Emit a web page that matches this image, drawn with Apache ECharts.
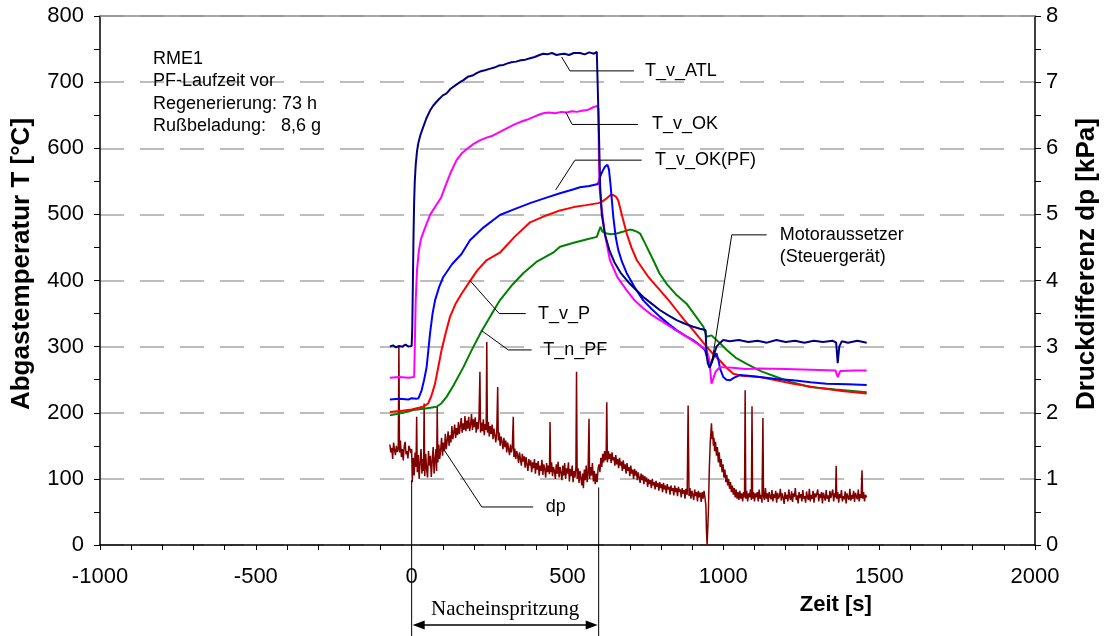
<!DOCTYPE html>
<html><head><meta charset="utf-8">
<script src="https://cdn.jsdelivr.net/npm/echarts@6/dist/echarts.min.js"></script>
<style>html,body{margin:0;padding:0;background:#fff}#c{width:1105px;height:636px}</style>
</head><body><div id="c"></div><script>
// ---- tick definitions ----
var xTicks = {min: -1000, max: 2000, interval: 500};
var yLeftTicks = {min: 0, max: 800, interval: 100};
var yRightTicks = {min: 0, max: 8, interval: 1};

// ---- series data [time s, value] ----
var tvATL = [[-70,300],[-60,302],[-50,299],[-40,301],[-30,300],[-20,303],[-10,300],[0,301],[2,330],[4,400],[6,470],[8,520],[10,550],[13,575],[17,595],[21,607],[28,620],[37,632],[47,645],[59,657],[70,665],[85,673],[100,680],[112,683],[125,690],[140,695],[155,700],[166,703],[180,708],[195,710],[210,714],[219,716],[235,718],[250,720],[265,722],[280,725],[295,726],[305,728],[320,730],[335,731],[350,733],[365,734],[380,736],[395,738],[410,741],[422,743],[435,742],[450,744],[465,741],[476,742],[490,743],[505,741],[520,744],[540,744],[555,742],[570,745],[585,743],[594,746],[598,744],[600,640],[602,600],[605,540],[610,500],[620,470],[635,445],[650,428],[670,412],[700,395],[743,375],[770,365],[797,355],[825,347],[850,340],[875,335],[903,330],[925,327],[943,325],[946,290],[950,275],[956,268],[962,269],[970,288],[978,300],[990,306],[1000,310],[1020,308],[1050,310],[1080,307],[1110,309],[1140,306],[1170,310],[1200,307],[1230,309],[1260,306],[1290,309],[1320,307],[1350,309],[1362,306],[1367,275],[1372,300],[1380,308],[1400,306],[1430,309],[1460,306]];
var tvOK = [[-70,253],[-40,254],[-10,253],[8,254],[10,300],[13,370],[17,415],[23,445],[30,463],[43,480],[60,500],[80,515],[94,525],[110,545],[125,563],[144,582],[160,592],[180,600],[200,607],[219,612],[240,616],[260,619],[280,624],[305,630],[330,636],[350,640],[369,643],[390,647],[410,651],[422,653],[440,654],[460,653],[480,655],[497,654],[515,656],[530,655],[550,657],[565,658],[583,662],[595,664],[599,660],[601,580],[603,540],[609,511],[620,470],[636,431],[660,405],[690,385],[715,370],[743,358],[770,348],[797,340],[840,327],[882,315],[915,305],[946,295],[955,280],[962,244],[968,252],[975,262],[989,269],[1030,268],[1070,266],[1117,267],[1200,266],[1280,265],[1360,264],[1367,254],[1375,263],[1420,264],[1460,264]];
var tvOKPF = [[-70,220],[-40,221],[-10,220],[0,222],[5,225],[15,221],[22,222],[32,234],[40,250],[48,269],[59,320],[67,350],[75,370],[88,390],[101,405],[130,425],[160,440],[187,461],[230,480],[283,499],[330,508],[380,517],[430,525],[476,532],[520,538],[540,541],[570,543],[598,546],[603,555],[612,565],[620,572],[628,575],[633,568],[638,545],[647,496],[655,465],[663,446],[675,428],[690,411],[715,390],[743,370],[770,357],[797,345],[825,334],[850,325],[880,316],[903,310],[925,302],[941,295],[950,280],[957,269],[962,272],[970,285],[978,290],[985,278],[990,266],[1000,254],[1010,250],[1021,249],[1035,253],[1053,257],[1080,256],[1117,254],[1170,251],[1224,249],[1280,246],[1331,244],[1400,243],[1460,242]];
var tvP = [[-70,201],[-30,203],[0,205],[37,209],[53,214],[63,225],[75,244],[85,268],[96,295],[110,322],[123,345],[140,364],[160,380],[187,399],[210,415],[241,431],[283,442],[330,466],[380,488],[430,498],[476,506],[520,511],[560,514],[599,517],[610,519],[625,524],[640,530],[647,529],[655,527],[663,521],[675,498],[690,471],[705,450],[722,431],[760,405],[797,385],[825,370],[850,355],[875,340],[903,325],[925,312],[946,300],[965,290],[989,279],[1010,268],[1032,259],[1060,256],[1117,254],[1170,249],[1224,244],[1300,238],[1380,233],[1460,229]];
var tnPF = [[-70,196],[-40,199],[-10,202],[5,204],[40,206],[80,209],[95,214],[112,224],[135,242],[166,269],[195,297],[225,324],[255,348],[283,370],[320,392],[358,411],[400,428],[454,442],[476,451],[520,457],[560,462],[594,466],[600,474],[606,481],[612,474],[626,471],[640,470],[658,471],[680,474],[700,477],[711,476],[722,474],[733,471],[750,455],[775,431],[795,411],[818,395],[850,378],[882,365],[910,347],[936,330],[946,315],[952,318],[962,317],[985,307],[1011,295],[1040,283],[1075,274],[1120,263],[1171,254],[1220,246],[1278,239],[1360,235],[1460,231]];
var dp = [[-70,1.52],[-67,1.40],[-64,1.47],[-61,1.30],[-58,1.55],[-55,1.44],[-52,1.36],[-49,1.50],[-46,1.41],[-43,1.47],[-41,3.02],[-39,1.40],[-36,1.58],[-33,1.33],[-30,1.45],[-27,1.28],[-24,1.49],[-21,1.56],[-18,1.37],[-15,1.42],[-12,1.31],[-9,1.50],[-6,1.46],[-3,1.39],[0,1.45],[2,0.95],[5,1.32],[8,1.05],[11,1.40],[14,1.18],[16,1.94],[18,1.10],[21,1.36],[24,1.00],[27,1.25],[30,1.45],[33,1.08],[36,1.30],[38,1.12],[40,2.14],[42,1.04],[45,1.38],[48,1.15],[51,1.02],[54,1.42],[57,1.20],[60,1.35],[63,1.03],[66,1.28],[69,1.48],[72,1.08],[75,1.30],[78,1.45],[80,1.12],[82,2.09],[84,1.25],[87,1.52],[90,1.30],[93,1.44],[96,1.62],[99,1.35],[102,1.55],[105,1.42],[108,1.68],[111,1.45],[114,1.58],[117,1.72],[120,1.50],[123,1.66],[126,1.55],[129,1.80],[132,1.60],[135,1.70],[138,1.82],[141,1.62],[144,1.77],[147,1.66],[150,1.86],[153,1.68],[156,1.80],[159,1.92],[162,1.70],[165,1.84],[168,1.74],[171,1.95],[174,1.72],[177,1.88],[180,1.76],[183,1.94],[186,1.72],[189,1.82],[192,1.98],[195,1.74],[198,1.90],[201,1.78],[204,1.93],[207,1.70],[210,1.86],[213,1.75],[216,1.92],[219,2.62],[221,1.70],[224,1.85],[227,1.72],[230,1.90],[233,1.66],[236,1.83],[239,1.74],[241,3.07],[243,1.70],[246,1.86],[249,1.64],[252,1.80],[255,1.68],[258,1.82],[261,1.60],[264,1.76],[267,1.66],[270,1.55],[273,1.72],[276,2.39],[278,1.58],[281,1.70],[284,1.50],[287,1.64],[290,1.56],[293,1.45],[296,1.62],[299,1.48],[302,1.58],[305,1.40],[308,1.55],[311,1.45],[314,1.36],[317,1.52],[320,1.40],[323,1.48],[326,1.94],[328,1.33],[331,1.46],[334,1.30],[337,1.42],[340,1.35],[343,1.24],[346,1.40],[349,1.30],[352,1.20],[355,1.38],[358,1.26],[361,1.34],[364,1.17],[367,1.33],[370,1.22],[373,1.12],[376,1.30],[379,1.20],[382,1.28],[385,1.10],[388,1.25],[391,1.16],[394,1.30],[397,1.08],[400,1.24],[403,1.14],[406,1.27],[409,1.05],[412,1.20],[415,1.12],[418,1.29],[421,1.06],[424,1.22],[427,1.15],[430,1.02],[433,1.24],[436,1.10],[439,1.20],[442,1.07],[444,1.86],[446,1.10],[449,1.25],[452,1.04],[455,1.18],[458,1.12],[461,1.00],[464,1.22],[467,1.08],[470,1.26],[473,1.02],[476,1.18],[479,1.10],[482,0.98],[485,1.20],[488,1.05],[491,1.24],[494,1.00],[497,1.16],[500,1.08],[503,1.25],[506,0.96],[509,1.15],[512,1.04],[515,1.20],[518,0.95],[521,1.12],[524,1.02],[527,1.18],[529,2.62],[531,1.00],[534,1.16],[537,0.94],[540,1.12],[543,1.02],[546,0.90],[549,1.08],[551,0.86],[554,1.14],[557,0.98],[560,1.20],[563,0.95],[566,1.10],[569,1.91],[571,1.00],[574,1.18],[577,1.05],[580,1.24],[583,0.96],[586,1.12],[589,0.92],[592,1.08],[595,0.95],[598,1.15],[601,1.22],[604,1.10],[607,1.32],[610,1.18],[613,1.38],[616,1.25],[619,1.42],[622,1.28],[624,1.35],[626,2.16],[628,1.25],[631,1.42],[634,1.30],[637,1.38],[640,1.24],[643,1.40],[646,1.28],[649,1.33],[652,1.20],[655,1.36],[658,1.22],[661,1.30],[664,1.16],[667,1.32],[670,1.20],[673,1.26],[676,1.12],[679,1.28],[682,1.15],[685,1.22],[688,1.08],[691,1.24],[694,1.12],[697,1.18],[700,1.04],[703,1.20],[706,1.08],[709,1.14],[712,1.00],[715,1.15],[718,1.05],[721,1.12],[724,0.98],[727,1.10],[730,1.02],[733,0.94],[736,1.08],[739,0.98],[742,1.06],[745,0.92],[748,1.04],[751,0.96],[754,1.02],[757,0.88],[760,1.00],[763,0.92],[766,0.98],[769,0.86],[772,1.00],[775,0.90],[778,0.95],[781,0.84],[784,0.97],[787,0.88],[790,0.94],[793,0.82],[796,0.95],[799,0.86],[802,0.92],[805,0.80],[808,0.94],[811,0.84],[814,0.90],[817,0.78],[820,0.92],[823,0.84],[826,0.88],[829,0.76],[832,0.90],[835,0.82],[838,0.86],[841,0.75],[844,0.90],[847,0.80],[850,0.86],[853,0.74],[856,0.88],[859,0.80],[862,0.84],[865,0.72],[868,0.86],[871,0.78],[874,0.83],[877,0.70],[880,0.85],[884,0.76],[887,2.11],[890,0.74],[893,0.86],[896,0.70],[899,0.82],[902,0.76],[905,0.68],[908,0.84],[911,0.74],[914,0.80],[917,0.66],[920,0.82],[923,0.72],[926,0.79],[929,0.65],[932,0.80],[935,0.70],[938,0.82],[941,0.72],[944,0.60],[946,0.20],[948,0.00],[950,0.00],[952,0.50],[955,1.15],[958,1.55],[960,1.70],[962,1.84],[964,1.60],[966,1.72],[968,1.50],[970,1.62],[972,1.42],[975,1.56],[978,1.35],[981,1.48],[984,1.25],[987,1.40],[990,1.18],[993,1.30],[996,1.10],[999,1.22],[1002,1.02],[1005,1.14],[1008,0.95],[1011,1.06],[1014,0.90],[1017,1.00],[1020,0.85],[1023,0.95],[1026,0.80],[1029,0.90],[1032,0.76],[1035,0.86],[1038,0.72],[1041,0.84],[1044,0.70],[1047,0.80],[1050,0.68],[1053,0.82],[1056,0.70],[1059,0.78],[1062,0.66],[1065,0.80],[1068,0.72],[1070,2.34],[1072,0.70],[1075,0.82],[1078,0.66],[1081,0.78],[1084,0.72],[1087,0.84],[1090,0.68],[1092,2.10],[1094,0.70],[1097,0.80],[1100,0.66],[1103,0.78],[1106,0.72],[1109,0.80],[1112,0.66],[1115,0.84],[1118,0.70],[1121,0.76],[1124,0.64],[1127,1.92],[1129,0.74],[1132,0.68],[1135,0.86],[1138,0.70],[1141,0.78],[1144,0.65],[1147,0.80],[1150,0.73],[1153,0.69],[1156,0.83],[1159,0.66],[1162,0.77],[1165,0.71],[1168,0.82],[1171,0.64],[1174,0.79],[1177,0.70],[1180,0.74],[1183,0.85],[1186,0.67],[1189,0.78],[1192,0.72],[1195,0.62],[1198,0.80],[1201,0.70],[1204,0.76],[1207,0.66],[1210,0.84],[1213,0.72],[1216,0.68],[1219,0.81],[1222,0.65],[1225,0.78],[1228,0.73],[1231,0.86],[1234,0.68],[1237,0.75],[1240,0.63],[1243,0.80],[1246,0.71],[1249,0.77],[1252,0.66],[1255,0.83],[1258,0.70],[1261,0.74],[1264,0.64],[1267,0.81],[1270,0.72],[1273,0.68],[1276,0.85],[1279,0.66],[1282,0.76],[1285,0.70],[1288,0.82],[1291,0.64],[1294,0.78],[1297,0.72],[1300,0.69],[1303,0.84],[1306,0.66],[1309,0.77],[1312,0.71],[1315,0.80],[1318,0.63],[1321,0.79],[1324,0.73],[1327,0.67],[1330,0.83],[1333,0.70],[1336,0.75],[1339,0.65],[1342,0.82],[1345,0.71],[1348,0.68],[1351,0.84],[1354,0.66],[1357,0.78],[1360,0.72],[1362,1.20],[1364,0.70],[1367,0.80],[1370,0.64],[1373,0.77],[1376,0.71],[1379,0.83],[1382,0.66],[1385,0.74],[1388,0.69],[1391,0.81],[1394,0.63],[1397,0.78],[1400,0.72],[1403,0.68],[1406,0.85],[1409,0.67],[1412,0.76],[1415,0.70],[1418,0.82],[1421,0.65],[1424,0.79],[1427,0.73],[1430,0.69],[1433,0.84],[1436,0.66],[1439,0.77],[1442,0.71],[1445,1.13],[1447,0.70],[1450,0.80],[1453,0.66],[1456,0.76],[1460,0.72]];

// ---- texts ----
var infoLines = ['RME1', 'PF-Laufzeit vor', 'Regenerierung: 73 h', 'Rußbeladung:   8,6 g'];
var leftTitle = 'Abgastemperatur T [°C]';
var rightTitle = 'Druckdifferenz dp [kPa]';
var xTitle = 'Zeit [s]';
var labels = [
  {text: 'T_v_ATL', leader: [[481,738],[508,717],[713,717]], at: [749,717]},
  {text: 'T_v_OK', leader: [[495,654],[515,636],[726,636]], at: [771,636]},
  {text: 'T_v_OK(PF)', leader: [[462,537],[524,582],[738,582]], at: [781,582]},
  {text: 'Motoraussetzer\n(Steuergerät)', leader: [[963,275],[1027,469],[1139,469]], at: [1181,452]},
  {text: 'T_v_P', leader: [[187,400],[281,350],[366,350]], at: [405,350]},
  {text: 'T_n_PF', leader: [[225,324],[310,295],[385,295]], at: [422,295]},
  {text: 'dp', leader: [[101,146],[225,57.5],[390,57.5]], at: [430,57.5]}
];
var injStart = 0, injEnd = 600;

var FONT = '"Liberation Sans", Arial, sans-serif';
var chart = echarts.init(document.getElementById('c'), null, {renderer: 'canvas'});

function lineSeries(name, data, color, yIdx, w) {
  return {name: name, type: 'line', data: data, yAxisIndex: yIdx, showSymbol: false, symbol: 'none',
    lineStyle: {color: color, width: w}, itemStyle: {color: color}, animation: false, z: 3};
}
function plain(v) { return String(v); }

var option = {
  backgroundColor: '#fff',
  animation: false,
  grid: {left: 100, right: 70, top: 16, bottom: 91, containLabel: false},
  xAxis: [{
    type: 'value', min: xTicks.min, max: xTicks.max, interval: xTicks.interval,
    axisLine: {show: true, onZero: false, lineStyle: {color: '#000', width: 1.5}},
    axisTick: {show: true, length: 5, lineStyle: {color: '#000'}},
    minorTick: {show: true, splitNumber: 5, length: 5, lineStyle: {color: '#000'}},
    axisLabel: {fontSize: 22, color: '#000', margin: 21, fontFamily: FONT, formatter: plain},
    splitLine: {show: false}
  }, {
    type: 'value', position: 'top', min: xTicks.min, max: xTicks.max,
    axisLine: {show: true, onZero: false, lineStyle: {color: '#8c8c8c', width: 1.5}},
    axisTick: {show: false}, axisLabel: {show: false}, splitLine: {show: false}
  }],
  yAxis: [{
    type: 'value', min: yLeftTicks.min, max: yLeftTicks.max, interval: yLeftTicks.interval,
    axisLine: {show: true, onZero: false, lineStyle: {color: '#000', width: 1.5}},
    axisTick: {show: true, length: 6, lineStyle: {color: '#000'}},
    minorTick: {show: true, splitNumber: 2, length: 6, lineStyle: {color: '#000'}},
    axisLabel: {fontSize: 22, color: '#000', margin: 16, fontFamily: FONT, formatter: plain},
    splitLine: {show: true, lineStyle: {color: '#a8a8a8', width: 1.5, type: [24, 16]}}
  }, {
    type: 'value', position: 'right', min: yRightTicks.min, max: yRightTicks.max, interval: yRightTicks.interval,
    axisLine: {show: true, onZero: false, lineStyle: {color: '#000', width: 1.5}},
    axisTick: {show: true, length: 6, lineStyle: {color: '#000'}},
    minorTick: {show: true, splitNumber: 2, length: 6, lineStyle: {color: '#000'}},
    axisLabel: {fontSize: 22, color: '#000', margin: 11, fontFamily: FONT, formatter: plain},
    splitLine: {show: false}
  }],
  series: [
    lineSeries('dp', dp, '#800000', 1, 1.5),
    lineSeries('T_n_PF', tnPF, '#008000', 0, 2),
    lineSeries('T_v_P', tvP, '#ff0000', 0, 2),
    lineSeries('T_v_OK(PF)', tvOKPF, '#0000ff', 0, 2),
    lineSeries('T_v_OK', tvOK, '#ff00ff', 0, 2),
    lineSeries('T_v_ATL', tvATL, '#000080', 0, 2)
  ]
};
chart.setOption(option);

function px(p) { return chart.convertToPixel({xAxisIndex: 0, yAxisIndex: 0}, p); }
var g = [];
labels.forEach(function (l) {
  g.push({type: 'polyline', z: 10, shape: {points: l.leader.map(px)}, style: {stroke: '#000', lineWidth: 1, fill: null}});
  var a = px(l.at);
  g.push({type: 'text', z: 10, style: {text: l.text, x: a[0], y: a[1], fill: '#000', fontSize: 18, fontFamily: FONT,
    align: 'left', verticalAlign: 'middle', lineHeight: 22}});
});
var info0 = px([-830, 752]);
g.push({type: 'text', z: 10, style: {text: infoLines.join('\n'), x: info0[0], y: info0[1], fill: '#000', fontSize: 18,
  fontFamily: FONT, align: 'left', verticalAlign: 'top', lineHeight: 22.5}});
var x0 = px([injStart, 98]), x1 = px([injEnd, 87]);
g.push({type: 'line', z: 10, shape: {x1: x0[0], y1: x0[1], x2: x0[0], y2: 636}, style: {stroke: '#000', lineWidth: 1}});
g.push({type: 'line', z: 10, shape: {x1: x1[0], y1: x1[1], x2: x1[0], y2: 636}, style: {stroke: '#000', lineWidth: 1}});
var ay = 625;
g.push({type: 'line', z: 10, shape: {x1: x0[0] + 4, y1: ay, x2: x1[0] - 4, y2: ay}, style: {stroke: '#000', lineWidth: 1.5}});
g.push({type: 'polygon', z: 10, shape: {points: [[x0[0] + 1, ay], [x0[0] + 13, ay - 4.5], [x0[0] + 13, ay + 4.5]]}, style: {fill: '#000'}});
g.push({type: 'polygon', z: 10, shape: {points: [[x1[0] - 1, ay], [x1[0] - 13, ay - 4.5], [x1[0] - 13, ay + 4.5]]}, style: {fill: '#000'}});
g.push({type: 'text', z: 10, style: {text: 'Nacheinspritzung', x: (x0[0] + x1[0]) / 2, y: 609, fill: '#000', fontSize: 21,
  fontFamily: '"Liberation Serif", "Times New Roman", serif', align: 'center', verticalAlign: 'middle'}});
var xt = px([1361, 0]);
g.push({type: 'text', z: 10, style: {text: xTitle, x: xt[0], y: 605, fill: '#000', fontSize: 22, fontWeight: 'bold',
  fontFamily: FONT, align: 'center', verticalAlign: 'middle'}});
// rotated axis titles
g.push({type: 'text', z: 10, x: 22, y: 264, rotation: Math.PI / 2, style: {text: leftTitle, x: 0, y: 0, fill: '#000',
  fontSize: 26, fontWeight: 'bold', fontFamily: FONT, align: 'center', verticalAlign: 'middle'}});
g.push({type: 'text', z: 10, x: 1087, y: 264, rotation: Math.PI / 2, style: {text: rightTitle, x: 0, y: 0, fill: '#000',
  fontSize: 26, fontWeight: 'bold', fontFamily: FONT, align: 'center', verticalAlign: 'middle'}});
chart.setOption({graphic: g});
</script></body></html>
